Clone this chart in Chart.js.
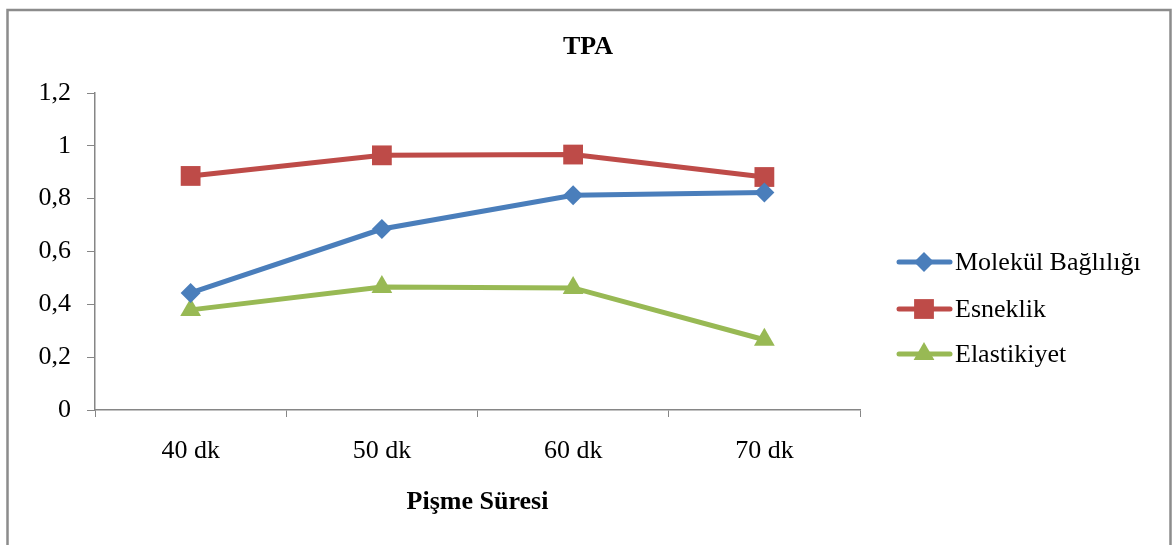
<!DOCTYPE html>
<html>
<head>
<meta charset="utf-8">
<script src="https://cdn.jsdelivr.net/npm/chart.js@4/dist/chart.umd.min.js"></script>
<style>
  body { margin: 0; background: #fff; }
  #wrap { width: 1172px; height: 545px; }
</style>
</head>
<body>
<div id="wrap"><canvas id="myCanvas" width="1172" height="545"></canvas></div>
<script>
// chart data
const categories = ["40 dk", "50 dk", "60 dk", "70 dk"];
const molekulBagliligi = [0.443, 0.685, 0.813, 0.823];
const esneklik = [0.886, 0.964, 0.967, 0.882];
const elastikiyet = [0.379, 0.466, 0.462, 0.266];
const yTicks = [0, 0.2, 0.4, 0.6, 0.8, 1, 1.2];

const serif = "'Liberation Serif', 'Times New Roman', serif";
const axisGray = "#868686";

// frame, title and legend drawn on top of the chart
const extrasPlugin = {
  id: "extras",
  afterDraw(chart) {
    const ctx = chart.ctx;
    ctx.save();

    // outer frame
    ctx.strokeStyle = "#8c8c8c";
    ctx.lineWidth = 2.5;
    ctx.beginPath();
    ctx.moveTo(7.5, 560);
    ctx.lineTo(7.5, 10);
    ctx.lineTo(1170.5, 10);
    ctx.lineTo(1170.5, 560);
    ctx.stroke();

    // title
    ctx.fillStyle = "#000";
    ctx.font = "bold 26px " + serif;
    ctx.textAlign = "center";
    ctx.textBaseline = "middle";
    ctx.fillText("TPA", 588, 47);

    // legend
    const rows = [262, 309, 354];
    chart.data.datasets.forEach((ds, i) => {
      const y = rows[i];
      ctx.strokeStyle = ds.borderColor;
      ctx.lineWidth = 5;
      ctx.lineCap = "round";
      ctx.beginPath();
      ctx.moveTo(899, y);
      ctx.lineTo(950, y);
      ctx.stroke();
      ctx.fillStyle = ds.backgroundColor;
      Chart.helpers.drawPoint(ctx, {
        pointStyle: ds.pointStyle,
        radius: ds.pointRadius,
        rotation: 0,
        borderWidth: 0
      }, 924, y);
      ctx.fillStyle = "#000";
      ctx.font = "26px " + serif;
      ctx.textAlign = "left";
      ctx.textBaseline = "middle";
      ctx.fillText(ds.label, 955, y + 1);
    });
    ctx.restore();
  }
};

function createLineChart() {
  const canvas = document.getElementById("myCanvas");
  const ctx = canvas.getContext("2d");

  const data = {
    labels: categories,
    datasets: [
      {
        label: "Molekül Bağlılığı",
        data: molekulBagliligi,
        borderColor: "#4A7EBB",
        backgroundColor: "#4A7EBB",
        pointStyle: "rectRot",
        pointRadius: 10
      },
      {
        label: "Esneklik",
        data: esneklik,
        borderColor: "#BE4B48",
        backgroundColor: "#BE4B48",
        pointStyle: "rect",
        pointRadius: 14
      },
      {
        label: "Elastikiyet",
        data: elastikiyet,
        borderColor: "#98B954",
        backgroundColor: "#98B954",
        pointStyle: "triangle",
        pointRadius: 12
      }
    ]
  };

  const options = {
    responsive: false,
    animation: false,
    layout: { padding: { top: 93, right: 312, left: 0, bottom: 0 } },
    elements: {
      line: { borderWidth: 5, tension: 0 },
      point: { borderWidth: 0, hoverRadius: 10 }
    },
    plugins: {
      legend: { display: false },
      title: { display: false },
      tooltip: { enabled: false }
    },
    scales: {
      x: {
        offset: true,
        grid: {
          offset: true,
          drawOnChartArea: false,
          tickLength: 7,
          color: axisGray,
          tickColor: axisGray
        },
        border: { color: axisGray, width: 1.5 },
        ticks: {
          color: "#000",
          font: { family: serif, size: 26 },
          padding: 19,
          maxRotation: 0
        },
        title: {
          display: true,
          text: "Pişme Süresi",
          color: "#000",
          font: { family: serif, size: 26, weight: "bold" },
          padding: { top: 0, bottom: 27 }
        },
        afterFit(scale) { scale.height = 135; }
      },
      y: {
        min: 0,
        max: 1.2,
        afterBuildTicks(scale) {
          scale.ticks = yTicks.map(v => ({ value: v }));
        },
        grid: {
          drawOnChartArea: false,
          tickLength: 8,
          color: axisGray,
          tickColor: axisGray
        },
        border: { color: axisGray, width: 1.5 },
        ticks: {
          color: "#000",
          font: { family: serif, size: 26 },
          padding: 16,
          callback: v => String(Math.round(v * 10) / 10).replace(".", ",")
        },
        afterFit(scale) { scale.width = 95; }
      }
    }
  };

  new Chart(ctx, {
    type: "line",
    data: data,
    options: options,
    plugins: [extrasPlugin]
  });
}

createLineChart();
</script>
</body>
</html>
